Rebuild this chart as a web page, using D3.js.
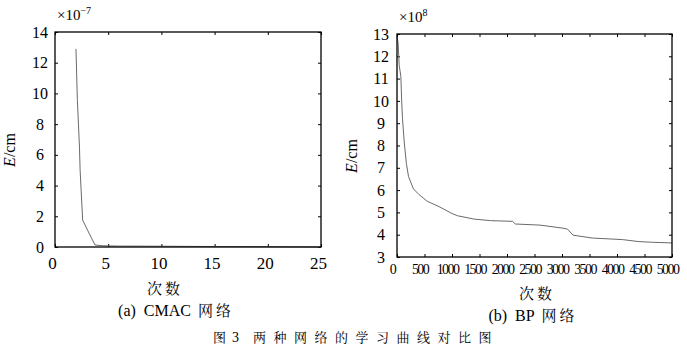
<!DOCTYPE html>
<html><head><meta charset="utf-8">
<script src="https://cdn.jsdelivr.net/npm/d3@7"></script>
<style>
body{margin:0;background:#fff;}
svg{display:block;}
</style></head>
<body>
<svg id="c" width="687" height="357"></svg>
<script>
// ---- data ----
const cmacIter = [1.97, 2.1, 2.3, 2.36, 2.6, 3.2, 3.76, 4.5, 6, 10, 15, 20, 25];
const cmacErr  = [12.9, 9.6, 6.5, 5.0, 1.75, 0.9, 0.13, 0.08, 0.06, 0.05, 0.03, 0.02, 0.0];
const cmacXTicks = [0, 5, 10, 15, 20, 25];
const cmacYTicks = [0, 2, 4, 6, 8, 10, 12, 14];

const bpIter = [0, 20, 40, 70, 85, 100, 130, 170, 210, 300, 400, 550, 780, 1000, 1100, 1400, 1700, 2100, 2150, 2600, 3000, 3100, 3200, 3550, 4100, 4400, 4650, 5000];
const bpErr  = [12.9, 12.6, 11.6, 11.1, 10.0, 9.2, 8.2, 7.2, 6.6, 6.05, 5.8, 5.5, 5.24, 4.95, 4.85, 4.7, 4.63, 4.6, 4.48, 4.43, 4.3, 4.25, 3.98, 3.85, 3.78, 3.69, 3.66, 3.63];
const bpXTicks = [0, 500, 1000, 1500, 2000, 2500, 3000, 3500, 4000, 4500, 5000];
const bpYTicks = [3, 4, 5, 6, 7, 8, 9, 10, 11, 12, 13];

const SERIF = '"Liberation Serif", monospace';
const CJK = '"Noto Serif CJK SC", "Noto Sans CJK SC", monospace';

const svg = d3.select("#c");
const ff = (sel, f) => sel.attr("font-family", f).style("font-family", f);

function panel(opt){
  const g = svg.append("g");
  const x = d3.scaleLinear().domain(opt.xd).range([opt.l, opt.r]);
  const y = d3.scaleLinear().domain(opt.yd).range([opt.b, opt.t]);
  const tl = 3;
  const mk = (axis, tr) => {
    const a = g.append("g").attr("transform", tr).call(axis);
    a.attr("font-family", null);
    a.select(".domain").remove();
    a.selectAll("line").attr("stroke", "#000").attr("stroke-width", 1);
    return a;
  };
  const bx = mk(d3.axisBottom(x).tickValues(opt.xt).tickSize(-tl).tickPadding(opt.xpad).tickFormat(d3.format("d")), `translate(0,${opt.b})`);
  ff(bx.selectAll("text"), SERIF).attr("font-size", opt.xfs).attr("fill","#000")
    .attr("letter-spacing", opt.xls).attr("dx", opt.xdx);
  mk(d3.axisTop(x).tickValues(opt.xt).tickSize(-tl).tickFormat(""), `translate(0,${opt.t})`);
  const ly = mk(d3.axisLeft(y).tickValues(opt.yt).tickSize(-tl), `translate(${opt.l},0)`);
  ff(ly.selectAll("text"), SERIF).attr("font-size", 16).attr("fill","#000")
    .attr("text-anchor","middle").attr("x", -opt.ylx);
  mk(d3.axisRight(y).tickValues(opt.yt).tickSize(-tl).tickFormat(""), `translate(${opt.r},0)`);

  const line = d3.line().x(d => x(d[0])).y(d => y(d[1]));
  g.append("path").datum(opt.data).attr("d", line)
    .attr("fill","none").attr("stroke","#6a6a6a").attr("stroke-width",1);

  g.append("rect").attr("x", opt.l).attr("y", opt.t)
    .attr("width", opt.r - opt.l).attr("height", opt.b - opt.t)
    .attr("fill","none").attr("stroke","#000").attr("stroke-width",1.3);

  const ex = ff(g.append("text"), SERIF).attr("x", opt.l + 2).attr("y", opt.expY)
    .attr("font-size", 15).attr("fill","#000");
  ex.append("tspan").text("×10");
  ex.append("tspan").attr("dy", -6).attr("font-size", 10).text(opt.exp);

  const yl = ff(g.append("text"), SERIF)
    .attr("transform", `translate(${opt.ylabX},${opt.ylabY}) rotate(-90)`)
    .attr("text-anchor","middle").attr("font-size", 16).attr("fill","#000");
  yl.append("tspan").attr("font-style","italic").text("E");
  yl.append("tspan").text("/cm");

  ff(g.append("text"), CJK).attr("x", opt.xlabX).attr("y", opt.xlabY)
    .attr("text-anchor","middle").attr("font-size", 15).attr("letter-spacing", 3).attr("fill","#000").text("次数");
  const sc = ff(g.append("text"), SERIF).attr("x", opt.subX).attr("y", opt.subY)
    .attr("text-anchor","middle").attr("font-size", 16).attr("fill","#000");
  sc.append("tspan").style("white-space","pre").text(opt.subA);
  ff(sc.append("tspan"), CJK).attr("font-size", 15).attr("letter-spacing", 3).attr("dx", 7).text("网络");
}

panel({
  l:55, r:321, t:32, b:247, xd:[0,25], yd:[0,14], xt:cmacXTicks, yt:cmacYTicks,
  xpad:10, xfs:17, xls:0, xdx:-3, ylx:15,
  data: cmacIter.map((v,i)=>[v, cmacErr[i]]),
  exp:"−7", expY:20, ylabX:15, ylabY:150,
  xlabX:165, xlabY:294, subX:176, subY:316, subA:"(a)  CMAC"
});
panel({
  l:397, r:672, t:34, b:257, xd:[0,5000], yd:[3,13], xt:bpXTicks, yt:bpYTicks,
  xpad:7, xfs:14, xls:-1.6, xdx:-5, ylx:16,
  data: bpIter.map((v,i)=>[v, bpErr[i]]),
  exp:"8", expY:22, ylabX:357, ylabY:156,
  xlabX:537, xlabY:299, subX:533, subY:321, subA:"(b)  BP"
});

const cap = ff(svg.append("text"), CJK).attr("y", 342)
  .attr("font-size", 13).attr("fill","#000");
cap.append("tspan").attr("x", 213).text("图");
ff(cap.append("tspan"), SERIF).attr("x", 232).attr("font-size", 14).text("3");
cap.append("tspan").attr("x", 253).attr("letter-spacing", 7.5).text("两种网络的学习曲线对比图");
</script>
</body></html>
